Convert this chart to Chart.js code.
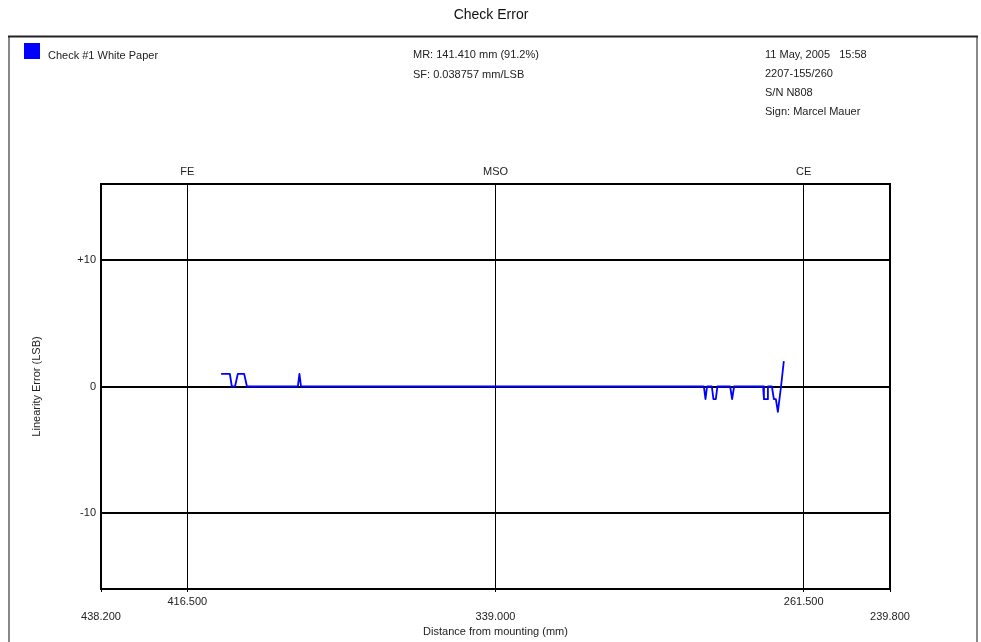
<!DOCTYPE html>
<html>
<head>
<meta charset="utf-8">
<script src="https://cdn.jsdelivr.net/npm/chart.js@4"></script>
<style>
  html, body { margin: 0; padding: 0; background: #fff; }
  #wrap { width: 981px; height: 642px; }
</style>
</head>
<body>
<div id="wrap"><canvas id="canvas"></canvas></div>
<script>
// measured line, distance (mm) and linearity error (LSB)
const distance = [408.0, 405.8, 405.3, 404.5, 403.8, 402.2, 401.5, 388.7, 388.3, 387.9,
    286.6, 286.2, 285.8, 284.6, 284.2, 283.6, 283.2, 280.0, 279.5, 279.0,
    271.7, 271.5, 270.7, 270.5, 269.5, 269.0, 268.5, 268.0, 267.2, 266.5]
const error = [1, 1, 0, 0, 1, 1, 0, 0, 1, 0,
    0, -1, 0, 0, -1, -1, 0, 0, -1, 0,
    0, -1, -1, 0, 0, -1, -1, -2, 0, 2]

// axis ticks
const xMin = 239.8
const xMax = 438.2
const bottomTicks = [438.2, 416.5, 339.0, 261.5, 239.8]
const upperRowTicks = [416.5, 261.5]
const markerTicks = [416.5, 339.0, 261.5]
const markerLabels = ["FE", "MSO", "CE"]
const yTicks = [-10, 0, 10]
const yTickLabels = ["-10", "0", "+10"]

// header texts
const chartTitle = "Check Error"
const seriesName = "Check #1 White Paper"
const middleInfo = ["MR: 141.410 mm (91.2%)", "SF: 0.038757 mm/LSB"]
const rightInfo = ["11 May, 2005   15:58", "2207-155/260", "S/N N808", "Sign: Marcel Mauer"]

const FONT = "'Liberation Sans', Arial, sans-serif"

const points = distance.map((d, i) => ({ x: d, y: error[i] }))

// frame, header texts and plot box
const framePlugin = {
    id: "frame",
    beforeDraw(chart) {
        const ctx = chart.ctx
        ctx.save()
        ctx.fillStyle = "#fff"
        ctx.fillRect(0, 0, chart.width, chart.height)
        // outer frame
        ctx.strokeStyle = "#888"
        ctx.lineWidth = 2
        ctx.beginPath()
        ctx.moveTo(9, 37)
        ctx.lineTo(9, chart.height + 2)
        ctx.moveTo(977, 37)
        ctx.lineTo(977, chart.height + 2)
        ctx.stroke()
        ctx.strokeStyle = "#222"
        ctx.beginPath()
        ctx.moveTo(8, 36.5)
        ctx.lineTo(978, 36.5)
        ctx.stroke()

        ctx.fillStyle = "#111"
        ctx.textBaseline = "middle"
        ctx.textAlign = "center"
        ctx.font = "14px " + FONT
        ctx.fillText(chartTitle, 491, 15)

        // legend
        const ds = chart.data.datasets[0]
        ctx.fillStyle = ds.borderColor
        ctx.fillRect(24, 43, 16, 16)
        ctx.fillStyle = "#222"
        ctx.textAlign = "left"
        ctx.font = "11px " + FONT
        ctx.fillText(ds.label, 48, 56)

        middleInfo.forEach((t, i) => ctx.fillText(t, 413, 55 + i * 19.5))
        rightInfo.forEach((t, i) => ctx.fillText(t, 765, 55 + i * 19))
        ctx.restore()
    },
    afterDraw(chart) {
        const a = chart.chartArea
        const ctx = chart.ctx
        ctx.save()
        ctx.strokeStyle = "#000"
        ctx.lineWidth = 2
        ctx.strokeRect(a.left, a.top, a.right - a.left, a.bottom - a.top)
        ctx.restore()
    }
}

const target = document.querySelector("#canvas")
const myChart = new Chart(target, {
    type: "line",
    data: {
        datasets: [{
            label: seriesName,
            data: points,
            borderColor: "#0000ff",
            borderWidth: 1.8,
            borderJoinStyle: "round",
            pointRadius: 0,
            tension: 0,
            fill: false
        }]
    },
    options: {
        responsive: true,
        maintainAspectRatio: false,
        animation: false,
        layout: { padding: { left: 0, top: 0, right: 91, bottom: 0 } },
        plugins: {
            legend: { display: false },
            title: { display: false },
            tooltip: { enabled: false }
        },
        scales: {
            x: {
                type: "linear",
                position: "bottom",
                min: xMin,
                max: xMax,
                reverse: true,
                afterBuildTicks: axis => { axis.ticks = bottomTicks.map(v => ({ value: v })) },
                afterFit: axis => { axis.height = 53 },
                border: { display: false },
                grid: { color: "#000", lineWidth: 1, drawTicks: true, tickLength: 3 },
                ticks: {
                    autoSkip: false,
                    maxRotation: 0,
                    padding: 2,
                    color: "#222",
                    font: { family: FONT, size: 11, lineHeight: 1.4 },
                    callback: v => upperRowTicks.includes(v) ? v.toFixed(3) : ["", v.toFixed(3)]
                },
                title: {
                    display: true,
                    text: "Distance from mounting (mm)",
                    color: "#222",
                    font: { family: FONT, size: 11 },
                    padding: { top: 0, bottom: 3 }
                }
            },
            xTop: {
                type: "linear",
                position: "top",
                min: xMin,
                max: xMax,
                reverse: true,
                afterBuildTicks: axis => { axis.ticks = markerTicks.map(v => ({ value: v })) },
                afterFit: axis => { axis.height = 184 },
                border: { display: false },
                grid: { display: false, drawTicks: false },
                ticks: {
                    autoSkip: false,
                    maxRotation: 0,
                    padding: 5,
                    color: "#222",
                    font: { family: FONT, size: 11 },
                    callback: v => markerLabels[markerTicks.indexOf(v)]
                }
            },
            y: {
                type: "linear",
                position: "left",
                min: -16,
                max: 16,
                afterBuildTicks: axis => { axis.ticks = yTicks.map(v => ({ value: v })) },
                afterFit: axis => { axis.width = 101 },
                border: { display: false },
                grid: { color: "#000", lineWidth: 2, drawTicks: false },
                ticks: {
                    padding: 5,
                    color: "#222",
                    font: { family: FONT, size: 11 },
                    callback: v => yTickLabels[yTicks.indexOf(v)]
                },
                title: {
                    display: true,
                    text: "Linearity Error (LSB)",
                    color: "#222",
                    font: { family: FONT, size: 11 },
                    padding: { top: 30, bottom: 0 }
                }
            }
        }
    },
    plugins: [framePlugin]
})
</script>
</body>
</html>
